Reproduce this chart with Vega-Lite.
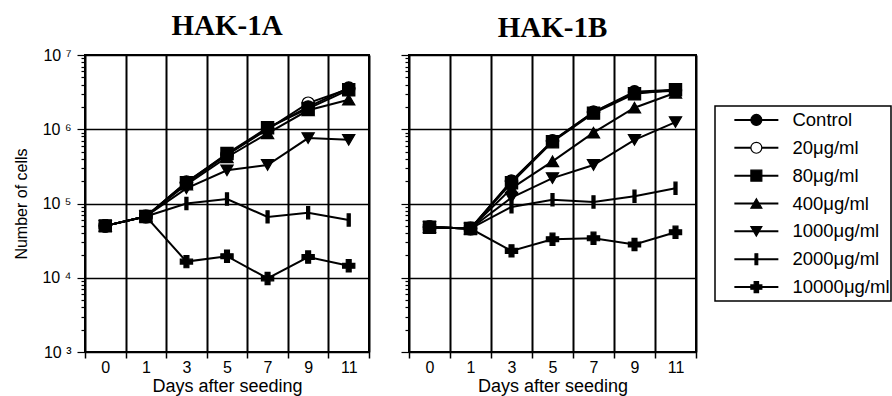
{
  "$schema": "https://vega.github.io/schema/vega-lite/v6.json",
  "padding": {"left": 12, "top": 11, "right": 0, "bottom": 0},
  "background": "white",
  "config": {
    "font": "Liberation Sans",
    "view": {"stroke": "black", "strokeWidth": 2},
    "axis": {"labelColor": "black", "titleColor": "black", "titleFontWeight": "normal", "tickColor": "black", "gridColor": "black"}
  },
  "datasets": {
    "growth": [
      {"panel": "A", "series": "20μg/ml", "day": 0, "cells": 50000},
      {"panel": "A", "series": "20μg/ml", "day": 1, "cells": 67000},
      {"panel": "A", "series": "20μg/ml", "day": 3, "cells": 190000},
      {"panel": "A", "series": "20μg/ml", "day": 5, "cells": 450000},
      {"panel": "A", "series": "20μg/ml", "day": 7, "cells": 1000000},
      {"panel": "A", "series": "20μg/ml", "day": 9, "cells": 2250000},
      {"panel": "A", "series": "20μg/ml", "day": 11, "cells": 3500000},
      {"panel": "A", "series": "Control", "day": 0, "cells": 50000},
      {"panel": "A", "series": "Control", "day": 1, "cells": 67000},
      {"panel": "A", "series": "Control", "day": 3, "cells": 195000},
      {"panel": "A", "series": "Control", "day": 5, "cells": 460000},
      {"panel": "A", "series": "Control", "day": 7, "cells": 1020000},
      {"panel": "A", "series": "Control", "day": 9, "cells": 2000000},
      {"panel": "A", "series": "Control", "day": 11, "cells": 3600000},
      {"panel": "A", "series": "80μg/ml", "day": 0, "cells": 50000},
      {"panel": "A", "series": "80μg/ml", "day": 1, "cells": 67000},
      {"panel": "A", "series": "80μg/ml", "day": 3, "cells": 190000},
      {"panel": "A", "series": "80μg/ml", "day": 5, "cells": 470000},
      {"panel": "A", "series": "80μg/ml", "day": 7, "cells": 1050000},
      {"panel": "A", "series": "80μg/ml", "day": 9, "cells": 1900000},
      {"panel": "A", "series": "80μg/ml", "day": 11, "cells": 3400000},
      {"panel": "A", "series": "400μg/ml", "day": 0, "cells": 50000},
      {"panel": "A", "series": "400μg/ml", "day": 1, "cells": 67000},
      {"panel": "A", "series": "400μg/ml", "day": 3, "cells": 180000},
      {"panel": "A", "series": "400μg/ml", "day": 5, "cells": 420000},
      {"panel": "A", "series": "400μg/ml", "day": 7, "cells": 880000},
      {"panel": "A", "series": "400μg/ml", "day": 9, "cells": 1800000},
      {"panel": "A", "series": "400μg/ml", "day": 11, "cells": 2500000},
      {"panel": "A", "series": "1000μg/ml", "day": 0, "cells": 50000},
      {"panel": "A", "series": "1000μg/ml", "day": 1, "cells": 67000},
      {"panel": "A", "series": "1000μg/ml", "day": 3, "cells": 160000},
      {"panel": "A", "series": "1000μg/ml", "day": 5, "cells": 280000},
      {"panel": "A", "series": "1000μg/ml", "day": 7, "cells": 330000},
      {"panel": "A", "series": "1000μg/ml", "day": 9, "cells": 760000},
      {"panel": "A", "series": "1000μg/ml", "day": 11, "cells": 720000},
      {"panel": "A", "series": "2000μg/ml", "day": 0, "cells": 50000},
      {"panel": "A", "series": "2000μg/ml", "day": 1, "cells": 67000},
      {"panel": "A", "series": "2000μg/ml", "day": 3, "cells": 100000},
      {"panel": "A", "series": "2000μg/ml", "day": 5, "cells": 115000},
      {"panel": "A", "series": "2000μg/ml", "day": 7, "cells": 66000},
      {"panel": "A", "series": "2000μg/ml", "day": 9, "cells": 75000},
      {"panel": "A", "series": "2000μg/ml", "day": 11, "cells": 60000},
      {"panel": "A", "series": "10000μg/ml", "day": 0, "cells": 50000},
      {"panel": "A", "series": "10000μg/ml", "day": 1, "cells": 67000},
      {"panel": "A", "series": "10000μg/ml", "day": 3, "cells": 16500},
      {"panel": "A", "series": "10000μg/ml", "day": 5, "cells": 19500},
      {"panel": "A", "series": "10000μg/ml", "day": 7, "cells": 9800},
      {"panel": "A", "series": "10000μg/ml", "day": 9, "cells": 19000},
      {"panel": "A", "series": "10000μg/ml", "day": 11, "cells": 14500},
      {"panel": "B", "series": "20μg/ml", "day": 0, "cells": 48000},
      {"panel": "B", "series": "20μg/ml", "day": 1, "cells": 46000},
      {"panel": "B", "series": "20μg/ml", "day": 3, "cells": 200000},
      {"panel": "B", "series": "20μg/ml", "day": 5, "cells": 690000},
      {"panel": "B", "series": "20μg/ml", "day": 7, "cells": 1700000},
      {"panel": "B", "series": "20μg/ml", "day": 9, "cells": 3100000},
      {"panel": "B", "series": "20μg/ml", "day": 11, "cells": 3300000},
      {"panel": "B", "series": "Control", "day": 0, "cells": 48000},
      {"panel": "B", "series": "Control", "day": 1, "cells": 46000},
      {"panel": "B", "series": "Control", "day": 3, "cells": 200000},
      {"panel": "B", "series": "Control", "day": 5, "cells": 700000},
      {"panel": "B", "series": "Control", "day": 7, "cells": 1700000},
      {"panel": "B", "series": "Control", "day": 9, "cells": 3200000},
      {"panel": "B", "series": "Control", "day": 11, "cells": 3400000},
      {"panel": "B", "series": "80μg/ml", "day": 0, "cells": 48000},
      {"panel": "B", "series": "80μg/ml", "day": 1, "cells": 46000},
      {"panel": "B", "series": "80μg/ml", "day": 3, "cells": 190000},
      {"panel": "B", "series": "80μg/ml", "day": 5, "cells": 680000},
      {"panel": "B", "series": "80μg/ml", "day": 7, "cells": 1650000},
      {"panel": "B", "series": "80μg/ml", "day": 9, "cells": 3000000},
      {"panel": "B", "series": "80μg/ml", "day": 11, "cells": 3400000},
      {"panel": "B", "series": "400μg/ml", "day": 0, "cells": 48000},
      {"panel": "B", "series": "400μg/ml", "day": 1, "cells": 46000},
      {"panel": "B", "series": "400μg/ml", "day": 3, "cells": 160000},
      {"panel": "B", "series": "400μg/ml", "day": 5, "cells": 370000},
      {"panel": "B", "series": "400μg/ml", "day": 7, "cells": 900000},
      {"panel": "B", "series": "400μg/ml", "day": 9, "cells": 1950000},
      {"panel": "B", "series": "400μg/ml", "day": 11, "cells": 3100000},
      {"panel": "B", "series": "1000μg/ml", "day": 0, "cells": 48000},
      {"panel": "B", "series": "1000μg/ml", "day": 1, "cells": 46000},
      {"panel": "B", "series": "1000μg/ml", "day": 3, "cells": 120000},
      {"panel": "B", "series": "1000μg/ml", "day": 5, "cells": 220000},
      {"panel": "B", "series": "1000μg/ml", "day": 7, "cells": 330000},
      {"panel": "B", "series": "1000μg/ml", "day": 9, "cells": 720000},
      {"panel": "B", "series": "1000μg/ml", "day": 11, "cells": 1250000},
      {"panel": "B", "series": "2000μg/ml", "day": 0, "cells": 48000},
      {"panel": "B", "series": "2000μg/ml", "day": 1, "cells": 46000},
      {"panel": "B", "series": "2000μg/ml", "day": 3, "cells": 90000},
      {"panel": "B", "series": "2000μg/ml", "day": 5, "cells": 112000},
      {"panel": "B", "series": "2000μg/ml", "day": 7, "cells": 105000},
      {"panel": "B", "series": "2000μg/ml", "day": 9, "cells": 125000},
      {"panel": "B", "series": "2000μg/ml", "day": 11, "cells": 160000},
      {"panel": "B", "series": "10000μg/ml", "day": 0, "cells": 48000},
      {"panel": "B", "series": "10000μg/ml", "day": 1, "cells": 46000},
      {"panel": "B", "series": "10000μg/ml", "day": 3, "cells": 23000},
      {"panel": "B", "series": "10000μg/ml", "day": 5, "cells": 33000},
      {"panel": "B", "series": "10000μg/ml", "day": 7, "cells": 34000},
      {"panel": "B", "series": "10000μg/ml", "day": 9, "cells": 28000},
      {"panel": "B", "series": "10000μg/ml", "day": 11, "cells": 41000}
    ],
    "series": [
      {"series": "Control"},
      {"series": "20μg/ml"},
      {"series": "80μg/ml"},
      {"series": "400μg/ml"},
      {"series": "1000μg/ml"},
      {"series": "2000μg/ml"},
      {"series": "10000μg/ml"}
    ]
  },
  "spacing": 16,
  "hconcat": [
    {
      "spacing": 28,
      "hconcat": [
        {
          "width": 284,
          "height": 297,
          "data": {"name": "growth"},
          "transform": [{"filter": "datum.panel === 'A'"}],
          "title": {"text": "HAK-1A", "font": "Liberation Serif", "fontSize": 29, "fontWeight": "bold", "color": "black", "frame": "group", "anchor": "middle", "offset": 6},
          "encoding": {
            "x": {"field": "day", "type": "ordinal", "scale": {"type": "band", "paddingInner": 0, "paddingOuter": 0},
              "axis": {"title": "Days after seeding", "tickBand": "extent", "grid": true, "gridWidth": 2, "tickSize": 6, "tickWidth": 1.5, "labelAngle": 0, "labelFontSize": 16, "labelPadding": 1, "titleFontSize": 18, "titlePadding": 2, "domain": false}},
            "y": {"field": "cells", "type": "quantitative", "scale": {"type": "log", "domain": [1000, 10000000], "nice": false},
              "axis": {
                "title": "Number of cells", "titleFontSize": 16, "titlePadding": 12,
                "values": [1000, 2000, 3000, 4000, 5000, 6000, 7000, 8000, 9000, 10000, 20000, 30000, 40000, 50000, 60000, 70000, 80000, 90000, 100000, 200000, 300000, 400000, 500000, 600000, 700000, 800000, 900000, 1000000, 2000000, 3000000, 4000000, 5000000, 6000000, 7000000, 8000000, 9000000, 10000000],
                "labelExpr": "datum.value == 1000 ? '10 ³' : datum.value == 10000 ? '10 ⁴' : datum.value == 100000 ? '10 ⁵' : datum.value == 1000000 ? '10 ⁶' : datum.value == 10000000 ? '10 ⁷' : ''",
                "labelOverlap": false, "labelFontSize": 16, "labelPadding": 6,
                "grid": true, "gridWidth": 1.5,
                "gridOpacity": {"condition": {"test": "datum.value == 1000 || datum.value == 10000 || datum.value == 100000 || datum.value == 1000000 || datum.value == 10000000", "value": 1}, "value": 0},
                "tickSize": {"condition": {"test": "datum.value == 1000 || datum.value == 10000 || datum.value == 100000 || datum.value == 1000000 || datum.value == 10000000", "value": 8}, "value": 4},
                "tickWidth": 1.2, "domain": false
              }}
          },
          "layer": [
            {"mark": {"type": "line", "color": "black", "strokeWidth": 2}, "encoding": {"detail": {"field": "series"}}},
            {"mark": {"type": "point", "filled": true, "stroke": "black", "strokeWidth": 1.2, "opacity": 1, "size": 150},
              "encoding": {
                "shape": {"field": "series", "type": "nominal", "legend": null, "scale": {"domain": ["Control", "20μg/ml", "80μg/ml", "400μg/ml", "1000μg/ml", "2000μg/ml", "10000μg/ml"], "range": ["circle", "circle", "square", "triangle-up", "triangle-down", "M-0.25,-1H0.25V1H-0.25Z", "cross"]}},
                "fill": {"field": "series", "type": "nominal", "legend": null, "scale": {"domain": ["Control", "20μg/ml", "80μg/ml", "400μg/ml", "1000μg/ml", "2000μg/ml", "10000μg/ml"], "range": ["black", "white", "black", "black", "black", "black", "black"]}}
              }}
          ]
        },
        {
          "width": 287,
          "height": 297,
          "data": {"name": "growth"},
          "transform": [{"filter": "datum.panel === 'B'"}],
          "title": {"text": "HAK-1B", "font": "Liberation Serif", "fontSize": 29, "fontWeight": "bold", "color": "black", "frame": "group", "anchor": "middle", "offset": 11},
          "encoding": {
            "x": {"field": "day", "type": "ordinal", "scale": {"type": "band", "paddingInner": 0, "paddingOuter": 0},
              "axis": {"title": "Days after seeding", "tickBand": "extent", "grid": true, "gridWidth": 2, "tickSize": 6, "tickWidth": 1.5, "labelAngle": 0, "labelFontSize": 16, "labelPadding": 1, "titleFontSize": 18, "titlePadding": 2, "domain": false}},
            "y": {"field": "cells", "type": "quantitative", "scale": {"type": "log", "domain": [1000, 10000000], "nice": false},
              "axis": {
                "title": null, "labels": false,
                "values": [1000, 2000, 3000, 4000, 5000, 6000, 7000, 8000, 9000, 10000, 20000, 30000, 40000, 50000, 60000, 70000, 80000, 90000, 100000, 200000, 300000, 400000, 500000, 600000, 700000, 800000, 900000, 1000000, 2000000, 3000000, 4000000, 5000000, 6000000, 7000000, 8000000, 9000000, 10000000],
                "grid": true, "gridWidth": 1.5,
                "gridOpacity": {"condition": {"test": "datum.value == 1000 || datum.value == 10000 || datum.value == 100000 || datum.value == 1000000 || datum.value == 10000000", "value": 1}, "value": 0},
                "tickSize": {"condition": {"test": "datum.value == 1000 || datum.value == 10000 || datum.value == 100000 || datum.value == 1000000 || datum.value == 10000000", "value": 8}, "value": 4},
                "tickWidth": 1.2, "domain": false
              }}
          },
          "layer": [
            {"mark": {"type": "line", "color": "black", "strokeWidth": 2}, "encoding": {"detail": {"field": "series"}}},
            {"mark": {"type": "point", "filled": true, "stroke": "black", "strokeWidth": 1.2, "opacity": 1, "size": 150},
              "encoding": {
                "shape": {"field": "series", "type": "nominal", "legend": null, "scale": {"domain": ["Control", "20μg/ml", "80μg/ml", "400μg/ml", "1000μg/ml", "2000μg/ml", "10000μg/ml"], "range": ["circle", "circle", "square", "triangle-up", "triangle-down", "M-0.25,-1H0.25V1H-0.25Z", "cross"]}},
                "fill": {"field": "series", "type": "nominal", "legend": null, "scale": {"domain": ["Control", "20μg/ml", "80μg/ml", "400μg/ml", "1000μg/ml", "2000μg/ml", "10000μg/ml"], "range": ["black", "white", "black", "black", "black", "black", "black"]}}
              }}
          ]
        }
      ]
    },
    {
      "spacing": 10,
      "vconcat": [
        {
          "width": 176,
          "height": 40,
          "data": {"values": []},
          "view": {"stroke": null},
          "mark": {"type": "rule"},
          "encoding": {}
        },
        {
          "width": 176,
          "height": 195,
          "data": {"name": "series"},
          "view": {"stroke": "black", "strokeWidth": 1.5},
          "encoding": {
            "y": {"field": "series", "type": "nominal", "sort": null, "scale": {"type": "point", "padding": 0.5}, "axis": null}
          },
          "layer": [
            {"mark": {"type": "rule", "color": "black", "strokeWidth": 2},
              "encoding": {"x": {"datum": 1.1, "type": "quantitative", "scale": {"domain": [0, 10]}, "axis": null}, "x2": {"datum": 3.6}}},
            {"mark": {"type": "point", "filled": true, "stroke": "black", "strokeWidth": 1.2, "opacity": 1, "size": 120},
              "encoding": {
                "x": {"datum": 2.35, "type": "quantitative"},
                "shape": {"field": "series", "type": "nominal", "legend": null, "scale": {"domain": ["Control", "20μg/ml", "80μg/ml", "400μg/ml", "1000μg/ml", "2000μg/ml", "10000μg/ml"], "range": ["circle", "circle", "square", "triangle-up", "triangle-down", "M-0.25,-1H0.25V1H-0.25Z", "cross"]}},
                "fill": {"field": "series", "type": "nominal", "legend": null, "scale": {"domain": ["Control", "20μg/ml", "80μg/ml", "400μg/ml", "1000μg/ml", "2000μg/ml", "10000μg/ml"], "range": ["black", "white", "black", "black", "black", "black", "black"]}}
              }},
            {"mark": {"type": "text", "align": "left", "baseline": "middle", "fontSize": 18.5, "font": "Liberation Sans", "color": "black"},
              "encoding": {"x": {"datum": 4.4, "type": "quantitative"}, "text": {"field": "series"}}}
          ]
        }
      ]
    }
  ]
}
